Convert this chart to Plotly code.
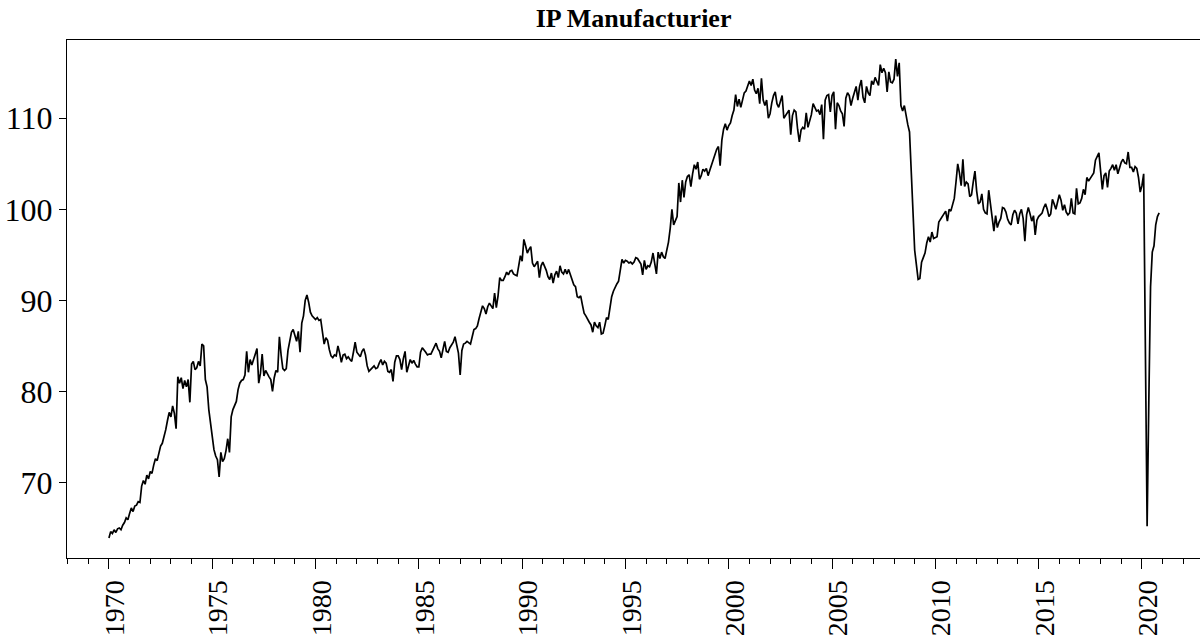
import plotly.graph_objects as go

start_year = 1970

ip_1970 = [63.9, 64.6, 64.4, 64.8, 64.5, 64.9, 65.0, 64.8, 65.3, 65.6, 66.1, 65.9]
ip_1971 = [66.6, 67.2, 66.8, 67.4, 67.5, 67.9, 67.8, 69.6, 70.2, 69.8, 70.8, 70.4]
ip_1972 = [71.2, 71.0, 71.9, 72.6, 72.4, 73.2, 74.0, 74.3, 75.0, 75.8, 76.8, 77.7]
ip_1973 = [77.2, 78.4, 77.6, 75.9, 81.6, 80.9, 81.5, 80.3, 81.2, 80.5, 81.3, 78.8]
ip_1974 = [83.0, 83.3, 82.4, 82.6, 83.3, 82.8, 85.2, 85.0, 81.3, 80.5, 78.0, 76.5]
ip_1975 = [74.8, 73.6, 72.9, 72.5, 70.6, 73.3, 72.3, 72.6, 73.5, 74.8, 73.3, 77.2]
ip_1976 = [78.0, 78.4, 78.9, 80.2, 80.9, 81.2, 81.3, 81.8, 84.4, 82.1, 83.5, 82.9]
ip_1977 = [83.6, 84.3, 84.7, 80.9, 82.0, 84.1, 81.7, 82.3, 81.9, 81.6, 81.3, 80.0]
ip_1978 = [81.5, 82.3, 82.1, 86.0, 84.0, 82.5, 82.3, 82.5, 84.5, 85.7, 86.5, 86.8]
ip_1979 = [86.2, 85.5, 86.6, 84.3, 87.5, 88.3, 90.0, 90.6, 89.8, 88.7, 88.3, 88.1]
ip_1980 = [87.9, 88.1, 87.8, 87.9, 86.5, 85.2, 85.9, 85.6, 84.6, 83.9, 83.7, 84.0]
ip_1981 = [83.9, 85.0, 84.2, 83.2, 84.0, 84.1, 83.6, 83.8, 83.5, 83.3, 84.3, 85.4]
ip_1982 = [84.3, 84.0, 83.8, 84.4, 84.7, 84.0, 82.8, 82.2, 82.4, 82.6, 82.8, 82.5]
ip_1983 = [82.6, 83.1, 83.5, 82.9, 83.3, 83.1, 82.2, 82.1, 82.4, 81.1, 83.2, 83.9]
ip_1984 = [83.9, 83.5, 82.4, 83.6, 84.4, 82.1, 82.7, 83.5, 83.1, 83.4, 83.0, 82.7]
ip_1985 = [82.7, 84.3, 84.8, 84.6, 84.3, 84.0, 84.1, 84.1, 84.5, 84.9, 85.3, 84.7]
ip_1986 = [84.4, 83.7, 84.6, 85.5, 84.4, 84.3, 84.8, 85.1, 85.4, 86.0, 85.1, 84.2]
ip_1987 = [81.8, 84.5, 85.2, 85.3, 85.5, 85.3, 85.2, 86.0, 86.8, 86.9, 87.2, 88.0]
ip_1988 = [88.7, 89.4, 89.1, 88.5, 89.3, 89.7, 89.4, 89.1, 90.8, 89.2, 90.5, 92.5]
ip_1989 = [92.2, 92.2, 92.6, 93.1, 92.8, 93.2, 93.3, 92.9, 92.8, 92.7, 93.8, 94.9]
ip_1990 = [94.3, 96.7, 96.0, 95.2, 95.6, 95.9, 94.1, 93.7, 94.0, 94.3, 92.5, 93.8]
ip_1991 = [94.2, 93.8, 93.3, 92.6, 92.3, 93.0, 91.9, 92.8, 93.2, 92.5, 93.8, 93.1]
ip_1992 = [92.9, 93.4, 92.9, 93.4, 92.8, 92.4, 91.7, 91.5, 90.4, 90.3, 90.5, 89.5]
ip_1993 = [88.6, 88.3, 87.9, 87.6, 87.3, 86.5, 87.6, 87.2, 87.0, 87.6, 86.3, 86.4]
ip_1994 = [87.2, 88.1, 87.9, 89.5, 90.4, 91.0, 91.5, 91.8, 92.1, 93.2, 94.5, 94.1]
ip_1995 = [94.4, 94.3, 94.1, 94.2, 94.0, 94.2, 94.7, 94.6, 94.3, 94.0, 92.8, 94.4]
ip_1996 = [93.4, 93.8, 93.7, 94.2, 95.2, 93.9, 92.9, 95.3, 94.6, 95.3, 94.8, 94.6]
ip_1997 = [95.6, 96.4, 97.9, 100.0, 98.3, 98.7, 99.2, 102.9, 100.8, 103.2, 101.3, 103.0]
ip_1998 = [103.6, 103.8, 102.5, 103.9, 104.9, 104.4, 105.2, 103.3, 103.7, 104.4, 104.2, 104.5]
ip_1999 = [103.7, 104.3, 104.9, 105.5, 106.2, 106.6, 106.9, 104.8, 107.6, 108.8, 109.4, 108.7]
ip_2000 = [109.2, 109.5, 110.3, 110.9, 112.6, 111.3, 112.1, 111.2, 112.0, 112.8, 113.0, 113.5]
ip_2001 = [114.1, 113.6, 114.3, 113.1, 112.7, 113.3, 111.6, 114.4, 112.0, 111.4, 112.0, 110.0]
ip_2002 = [110.5, 111.7, 112.5, 112.9, 111.6, 111.2, 111.8, 112.5, 110.0, 110.3, 110.7, 110.9]
ip_2003 = [108.2, 110.3, 110.9, 110.7, 108.8, 107.4, 108.7, 109.0, 108.8, 110.6, 109.0, 109.7]
ip_2004 = [110.4, 111.6, 111.1, 110.8, 110.9, 110.4, 111.5, 107.7, 112.0, 112.5, 112.6, 110.7]
ip_2005 = [112.5, 112.9, 108.8, 111.7, 111.4, 110.8, 110.5, 109.1, 112.2, 112.8, 112.5, 111.4]
ip_2006 = [112.2, 112.8, 113.5, 112.0, 113.5, 114.2, 112.3, 111.7, 113.5, 112.8, 112.5, 114.1]
ip_2007 = [113.7, 114.5, 114.0, 113.6, 115.9, 115.0, 115.5, 115.0, 112.9, 115.1, 114.0, 113.9]
ip_2008 = [114.3, 116.5, 114.6, 116.1, 111.4, 110.8, 111.4, 110.1, 109.3, 108.5, 104.0, 99.5]
ip_2009 = [95.5, 93.9, 92.3, 92.4, 94.2, 94.7, 95.2, 96.3, 97.0, 96.4, 97.5, 96.8]
ip_2010 = [96.9, 97.0, 98.6, 98.9, 99.2, 99.5, 99.8, 98.7, 100.0, 99.8, 100.4, 101.2]
ip_2011 = [103.0, 105.0, 104.0, 102.6, 105.5, 102.5, 103.0, 102.8, 101.4, 101.6, 103.0, 104.2]
ip_2012 = [102.0, 100.6, 100.8, 101.7, 100.0, 99.6, 99.5, 102.1, 100.6, 99.0, 97.6, 99.3]
ip_2013 = [98.0, 98.6, 99.0, 100.2, 100.1, 99.7, 98.9, 98.5, 98.3, 99.4, 99.9, 99.6]
ip_2014 = [98.4, 99.5, 100.0, 99.0, 96.5, 99.4, 100.2, 99.5, 98.7, 99.3, 97.2, 98.8]
ip_2015 = [99.2, 99.4, 99.6, 100.2, 100.6, 100.0, 99.2, 99.5, 101.1, 100.6, 100.0, 100.8]
ip_2016 = [101.6, 101.0, 99.9, 100.5, 99.7, 99.4, 99.6, 101.2, 99.6, 99.5, 102.3, 100.6]
ip_2017 = [100.7, 101.2, 102.2, 101.6, 103.5, 103.1, 103.4, 103.6, 104.0, 105.4, 105.8, 106.2]
ip_2018 = [104.2, 102.2, 103.7, 104.0, 102.4, 104.2, 104.5, 104.9, 104.3, 104.9, 103.9, 104.6]
ip_2019 = [105.2, 105.5, 105.1, 105.0, 106.3, 104.6, 104.6, 104.1, 104.7, 104.5, 103.5, 101.9]
ip_2020 = [102.6, 103.9, 86.0, 65.2, 79.0, 91.5, 95.3, 96.0, 98.3, 99.2, 99.6]

yearly = [ip_1970, ip_1971, ip_1972, ip_1973, ip_1974, ip_1975, ip_1976, ip_1977,
          ip_1978, ip_1979, ip_1980, ip_1981, ip_1982, ip_1983, ip_1984, ip_1985,
          ip_1986, ip_1987, ip_1988, ip_1989, ip_1990, ip_1991, ip_1992, ip_1993,
          ip_1994, ip_1995, ip_1996, ip_1997, ip_1998, ip_1999, ip_2000, ip_2001,
          ip_2002, ip_2003, ip_2004, ip_2005, ip_2006, ip_2007, ip_2008, ip_2009,
          ip_2010, ip_2011, ip_2012, ip_2013, ip_2014, ip_2015, ip_2016, ip_2017,
          ip_2018, ip_2019, ip_2020]

x_ticks = [1970, 1975, 1980, 1985, 1990, 1995, 2000, 2005, 2010, 2015, 2020]
y_ticks = [70, 80, 90, 100, 110]

t = []
v = []
for k, vals in enumerate(yearly):
    for m, val in enumerate(vals):
        t.append(start_year + k + m / 12.0)
        v.append(val)

FONT = "Liberation Serif"

fig = go.Figure()
fig.add_trace(go.Scatter(x=t, y=v, mode="lines",
                         line=dict(color="black", width=1.7),
                         showlegend=False, hoverinfo="x+y"))

fig.update_layout(
    width=1200, height=637,
    margin=dict(l=67, r=0, t=40, b=79, autoexpand=False),
    paper_bgcolor="white", plot_bgcolor="white",
    font=dict(family=FONT, color="black", size=28),
    title=dict(text="<b>IP Manufacturier</b>", x=0.528, xanchor="center",
               y=0.972, yanchor="middle", automargin=False,
               font=dict(family=FONT, size=26, color="black")),
)

fig.update_xaxes(
    range=[1967.97, 2022.81], automargin=False,
    tickmode="array", tickvals=x_ticks, ticktext=[str(x) for x in x_ticks],
    tickangle=-90, ticks="outside", ticklen=10, tickwidth=1, tickcolor="black",
    ticklabelshift=6,
    showline=True, linecolor="black", linewidth=1, mirror=True,
    showgrid=False, zeroline=False,
    tickfont=dict(family=FONT, size=28, color="black"),
    minor=dict(tickmode="linear", tick0=1970, dtick=1, ticks="outside",
               ticklen=5, tickwidth=1, tickcolor="black", showgrid=False),
)
fig.update_yaxes(
    range=[61.7, 118.6], automargin=False,
    tickmode="array", tickvals=y_ticks, ticktext=[str(y) for y in y_ticks],
    ticks="outside", ticklen=7, tickwidth=1, tickcolor="black",
    showline=True, linecolor="black", linewidth=1, mirror=False,
    showgrid=False, zeroline=False,
    tickfont=dict(family=FONT, size=32, color="black"),
)

fig.write_html("out.html", config={"displayModeBar": False},
               post_script="document.body.style.margin='0';document.body.style.overflow='hidden';")
